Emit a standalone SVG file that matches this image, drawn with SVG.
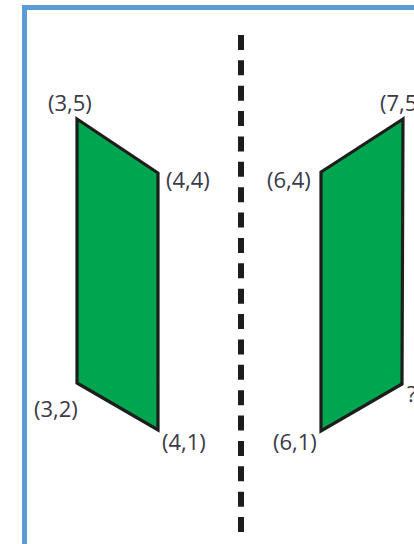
<svg xmlns="http://www.w3.org/2000/svg" width="414" height="544" viewBox="0 0 414 544">
<style>
.shape{fill:#00a54f;stroke:#1d1d1b;stroke-width:3.2;stroke-linejoin:miter}
.lbl{font-family:"Open Sans","DejaVu Sans",sans-serif;font-size:22px;fill:#3a3a48}
</style>
<rect x="0" y="0" width="414" height="544" fill="#ffffff"/>
<g id="frame">
<rect x="24.5" y="7.5" width="420" height="560" fill="none" stroke="#5b9bd5" stroke-width="5"/>
</g>
<g id="connectors">
<line x1="241" y1="35" x2="241" y2="532" stroke="#1d1d1b" stroke-width="6" stroke-dasharray="15 10.37"/>
</g>
<g id="left-shape">
<polygon class="shape" points="77,119 158,173 158,430 77,383"/>
</g>
<g id="right-shape">
<polygon class="shape" points="403,119 321,172 321,431 402,384"/>
</g>
<g id="labels">
<text class="lbl" x="48" y="111">(3,5)</text>
<text class="lbl" x="166" y="188">(4,4)</text>
<text class="lbl" x="267" y="188">(6,4)</text>
<text class="lbl" x="380" y="111">(7,5)</text>
<text class="lbl" x="34" y="417">(3,2)</text>
<text class="lbl" x="162" y="450">(4,1)</text>
<text class="lbl" x="273" y="450">(6,1)</text>
<text class="lbl" x="407" y="402">?</text>
</g>
</svg>
